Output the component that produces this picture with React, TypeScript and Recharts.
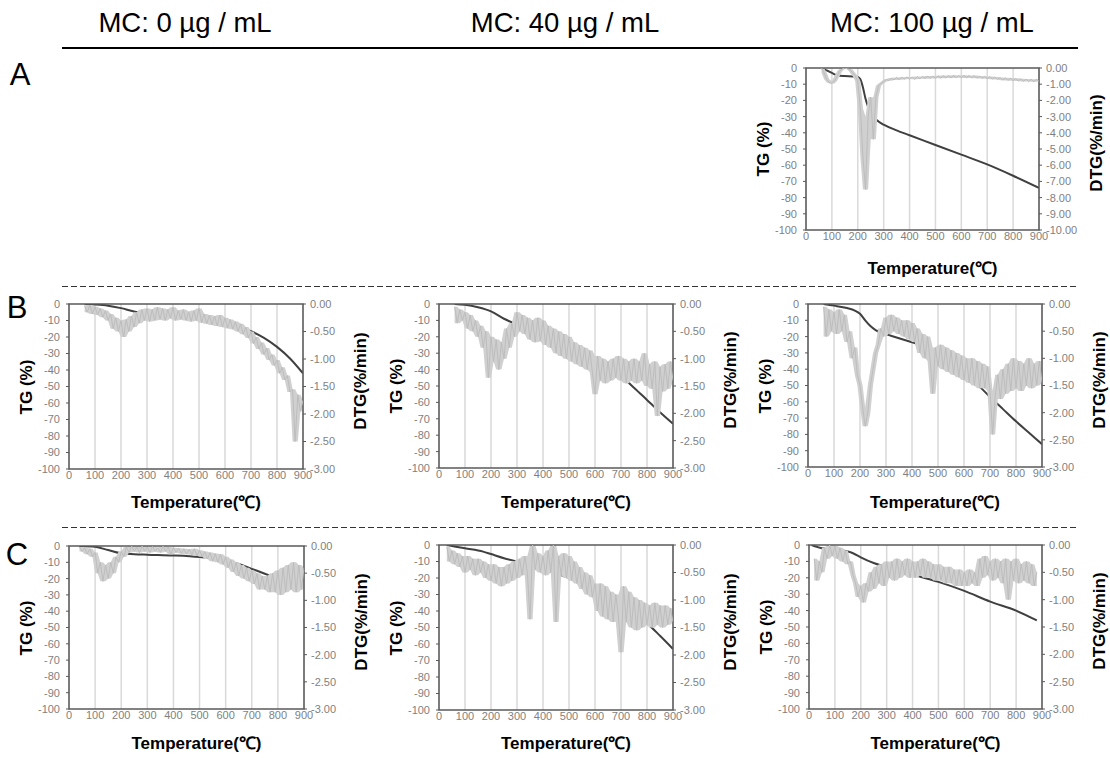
import React from 'react';
import { ComposedChart, Line, Area, XAxis, YAxis, CartesianGrid, ReferenceArea } from 'recharts';

const FONT = "'Liberation Sans', Arial, Helvetica, sans-serif";

const HEADERS = ['MC: 0 µg / mL', 'MC: 40 µg / mL', 'MC: 100 µg / mL'];
const ROW_LABELS = ['A', 'B', 'C'];
const X_TITLE = 'Temperature(℃)';
const TG_TITLE = 'TG (%)';
const DTG_TITLE = 'DTG(%/min)';

const X_TICKS = [0, 100, 200, 300, 400, 500, 600, 700, 800, 900];
const TG_TICKS = [0, -10, -20, -30, -40, -50, -60, -70, -80, -90, -100];
const DTG_TICKS_A = [0, -1, -2, -3, -4, -5, -6, -7, -8, -9, -10];
const DTG_TICKS_BC = [0, -0.5, -1, -1.5, -2, -2.5, -3];

// DTG sampling temperatures (°C)
const TEMPS = [
  0, 10, 20, 30, 40, 50, 60, 70, 80, 90,
  100, 110, 120, 130, 140, 150, 160, 170, 180, 190,
  200, 210, 220, 230, 240, 250, 260, 270, 280, 290,
  300, 310, 320, 330, 340, 350, 360, 370, 380, 390,
  400, 410, 420, 430, 440, 450, 460, 470, 480, 490,
  500, 510, 520, 530, 540, 550, 560, 570, 580, 590,
  600, 610, 620, 630, 640, 650, 660, 670, 680, 690,
  700, 710, 720, 730, 740, 750, 760, 770, 780, 790,
  800, 810, 820, 830, 840, 850, 860, 870, 880, 890,
  900,
];

// ---- TG curves (%), temperature / value pairs ----
const TG_A_T = [60, 80, 100, 120, 150, 180, 200, 210, 220, 230, 240, 250, 265, 280, 300, 350, 400, 500, 600, 700, 800, 900];
const TG_A_V = [0, -1.5, -3, -4.5, -5, -5.2, -5.5, -7, -12, -19, -24, -27.5, -31, -33, -35, -38.5, -41.5, -47.5, -53.5, -59.5, -66.5, -74];

const TG_B1_T = [60, 100, 150, 200, 250, 300, 400, 500, 600, 650, 700, 750, 800, 850, 900];
const TG_B1_V = [0, -0.3, -1, -2.5, -4.5, -5.8, -7.5, -9, -12, -14, -16.5, -20.5, -26, -33, -42];

const TG_B2_T = [60, 100, 150, 200, 250, 300, 350, 400, 450, 500, 550, 600, 650, 700, 750, 800, 850, 900];
const TG_B2_V = [0, -0.5, -2, -4.5, -9, -12.5, -15, -17.5, -20.5, -23.5, -28, -33, -38.5, -44, -51, -58.5, -66, -73];

const TG_B3_T = [60, 100, 150, 180, 200, 220, 240, 260, 280, 300, 350, 400, 430, 500, 600, 650, 700, 750, 800, 850, 900];
const TG_B3_V = [0, -1, -2.5, -4, -6, -10, -13.5, -16, -17.5, -18.5, -21, -23.5, -25, -31, -42, -49, -57, -64.5, -72, -79, -86];

const TG_C1_T = [40, 100, 150, 200, 250, 300, 400, 500, 600, 650, 700, 750, 800, 850, 900];
const TG_C1_V = [0, -0.5, -2.5, -4.5, -5, -5.3, -5.8, -6.8, -9, -11, -14, -17, -20, -23, -26];

const TG_C2_T = [30, 100, 170, 200, 250, 300, 400, 500, 600, 650, 700, 750, 800, 850, 900];
const TG_C2_V = [0, -2, -4, -5.5, -8, -10, -14.5, -20, -27, -31.5, -37, -42, -47.5, -55, -63];

const TG_C3_T = [10, 50, 100, 150, 170, 200, 250, 300, 400, 500, 600, 700, 800, 880];
const TG_C3_V = [0, -2, -3, -4, -5, -7.5, -11, -13.5, -18, -22.5, -28, -34.5, -40, -46];

// ---- DTG curves (%/min), one value per TEMPS entry ----
const DTG_A = [
  null, null, null, null, null, null, 0, -0.3, -0.7, -0.9,
  -0.95, -0.8, -0.5, -0.2, -0.05, 0, -0.05, -0.1, -0.3, -0.5,
  -0.8, -2.5, -5.5, -7.5, -3.0, -1.8, -4.4, -1.8, -1.1, -0.95,
  -0.85, -0.7, -0.78, -0.62, -0.74, -0.58, -0.72, -0.57, -0.7, -0.55,
  -0.68, -0.55, -0.7, -0.53, -0.67, -0.52, -0.66, -0.5, -0.65, -0.5,
  -0.64, -0.48, -0.63, -0.47, -0.62, -0.46, -0.62, -0.45, -0.6, -0.46,
  -0.6, -0.45, -0.61, -0.46, -0.62, -0.47, -0.63, -0.49, -0.65, -0.51,
  -0.67, -0.53, -0.69, -0.55, -0.71, -0.58, -0.75, -0.6, -0.77, -0.62,
  -0.79, -0.64, -0.81, -0.66, -0.83, -0.68, -0.84, -0.69, -0.85, -0.7,
  -0.82,
];

const DTG_B1 = [
  null, null, null, null, null, null, -0.03, -0.15, -0.02, -0.18,
  -0.05, -0.2, -0.08, -0.24, -0.12, -0.3, -0.18, -0.45, -0.25, -0.5,
  -0.3, -0.6, -0.28, -0.5, -0.22, -0.42, -0.15, -0.35, -0.1, -0.3,
  -0.08, -0.32, -0.1, -0.3, -0.06, -0.28, -0.08, -0.3, -0.1, -0.26,
  -0.06, -0.3, -0.12, -0.28, -0.1, -0.3, -0.14, -0.32, -0.12, -0.3,
  -0.08, -0.34, -0.18, -0.36, -0.2, -0.38, -0.22, -0.4, -0.2, -0.42,
  -0.25, -0.44, -0.28, -0.46, -0.32, -0.5, -0.36, -0.55, -0.42, -0.62,
  -0.5, -0.72, -0.6, -0.82, -0.7, -0.92, -0.8, -1.02, -0.92, -1.12,
  -1.02, -1.26, -1.15, -1.38, -1.3, -1.6, -1.55, -2.5, -1.65, -1.95,
  -1.75,
];

const DTG_B2 = [
  null, null, null, null, null, null, -0.05, -0.35, -0.1, -0.3,
  -0.15, -0.45, -0.2, -0.5, -0.3, -0.6, -0.4, -0.8, -0.5, -1.35,
  -0.6, -1.05, -0.65, -1.2, -0.7, -1.0, -0.45, -0.8, -0.35, -0.6,
  -0.15, -0.5, -0.2, -0.55, -0.25, -0.65, -0.3, -0.7, -0.25, -0.68,
  -0.3, -0.75, -0.4, -0.8, -0.45, -0.9, -0.5, -0.95, -0.55, -1.0,
  -0.6, -1.05, -0.7, -1.1, -0.75, -1.15, -0.8, -1.2, -0.85, -1.25,
  -1.65, -0.95, -1.4, -1.0, -1.45, -1.05, -1.4, -1.0, -1.35, -0.95,
  -1.4, -1.0, -1.45, -1.05, -1.4, -1.0, -1.45, -1.05, -1.4, -0.9,
  -1.5, -1.1, -1.55, -1.05, -2.05, -1.15, -1.6, -1.1, -1.55, -1.05,
  -1.4,
];

const DTG_B3 = [
  null, null, null, null, null, null, -0.05, -0.6, -0.1, -0.5,
  -0.15, -0.55, -0.1, -0.5, -0.2, -0.7, -0.5, -1.0, -0.8, -1.3,
  -1.5, -1.9, -2.25, -2.0, -1.5, -1.2, -0.9, -0.75, -0.45, -0.6,
  -0.25, -0.55, -0.2, -0.5, -0.25, -0.55, -0.3, -0.6, -0.3, -0.65,
  -0.35, -0.7, -0.45, -0.9, -0.55, -1.0, -0.6, -1.05, -1.65, -0.8,
  -1.15, -0.75, -1.2, -0.8, -1.25, -0.85, -1.3, -0.9, -1.35, -0.95,
  -1.4, -1.0, -1.45, -1.0, -1.5, -1.05, -1.55, -1.1, -1.55, -1.15,
  -1.6, -2.4, -1.7, -1.3, -1.75, -1.2, -1.65, -1.1, -1.6, -1.0,
  -1.55, -1.05, -1.6, -1.1, -1.5, -1.0, -1.55, -1.1, -1.5, -1.05,
  -1.45,
];

const DTG_C1 = [
  null, null, null, null, -0.02, -0.1, -0.03, -0.15, -0.05, -0.2,
  -0.12, -0.5, -0.3, -0.65, -0.35, -0.6, -0.3, -0.5, -0.2, -0.3,
  -0.1, -0.2, -0.02, -0.12, 0, -0.1, -0.02, -0.12, 0, -0.1,
  -0.02, -0.12, -0.01, -0.1, -0.03, -0.12, 0, -0.1, -0.02, -0.15,
  -0.03, -0.12, -0.04, -0.14, -0.05, -0.15, -0.06, -0.16, -0.05, -0.18,
  -0.08, -0.2, -0.1, -0.24, -0.12, -0.28, -0.14, -0.3, -0.15, -0.34,
  -0.2, -0.4, -0.25, -0.48, -0.3, -0.55, -0.35, -0.6, -0.4, -0.65,
  -0.45, -0.7, -0.5, -0.8, -0.55, -0.8, -0.55, -0.85, -0.5, -0.85,
  -0.45, -0.9, -0.4, -0.85, -0.35, -0.8, -0.3, -0.85, -0.35, -0.8,
  -0.4,
];

const DTG_C2 = [
  null, null, null, -0.03, -0.3, -0.1, -0.35, -0.15, -0.4, -0.2,
  -0.5, -0.2, -0.45, -0.25, -0.55, -0.25, -0.5, -0.3, -0.6, -0.35,
  -0.65, -0.35, -0.7, -0.4, -0.75, -0.4, -0.7, -0.35, -0.65, -0.3,
  -0.6, -0.25, -0.55, -0.2, -0.5, -1.35, 0, -0.45, -0.15, -0.5,
  -0.2, -0.55, -0.1, -0.5, 0, -1.4, -0.2, -0.55, -0.15, -0.6,
  -0.2, -0.65, -0.3, -0.7, -0.4, -0.8, -0.5, -0.9, -0.55, -0.95,
  -0.7, -1.2, -0.7, -1.3, -0.75, -1.35, -0.85, -1.4, -0.9, -1.3,
  -1.95, -0.75, -1.4, -0.85, -1.5, -0.95, -1.55, -1.0, -1.5, -1.05,
  -1.45, -1.1, -1.5, -1.05, -1.45, -1.1, -1.5, -1.1, -1.45, -1.15,
  -1.4,
];

const DTG_C3 = [
  null, null, -0.25, -0.65, -0.3, -0.5, -0.05, -0.25, 0, -0.2,
  -0.02, -0.25, -0.05, -0.3, -0.1, -0.35, -0.3, -0.55, -0.7, -0.95,
  -0.75, -1.05, -0.7, -0.85, -0.5, -0.8, -0.4, -0.7, -0.35, -0.75,
  -0.3, -0.6, -0.3, -0.65, -0.25, -0.6, -0.3, -0.55, -0.25, -0.6,
  -0.3, -0.6, -0.3, -0.55, -0.25, -0.6, -0.3, -0.6, -0.35, -0.65,
  -0.35, -0.65, -0.4, -0.7, -0.4, -0.7, -0.45, -0.75, -0.45, -0.75,
  -0.5, -0.75, -0.45, -0.7, -0.5, -0.75, -0.25, -0.6, -0.2, -0.55,
  -0.3, -0.65, -0.25, -0.6, -0.3, -0.7, -0.25, -1.0, -0.3, -0.65,
  -0.25, -0.7, -0.35, -0.65, -0.3, -0.7, -0.35, -0.75, -0.5, null,
  null,
];

type PanelProps = {
  left: number; top: number; w: number; h: number;
  tgT: number[]; tgV: number[]; dtg: (number | null)[];
  dtgMin: number; dtgTicks: number[]; titleY: number;
};

const tickStyle = { fontSize: 11, fill: '#7f7f7f', stroke: 'none', fontFamily: FONT };
const titleFont = `bold 17px ${FONT}`;

// noise envelope of the read DTG values (neighbouring samples)
function envelope(vals: (number | null)[]) {
  return vals.map((v, i) => {
    if (v == null) return null;
    const arr: number[] = [v];
    const a = vals[i - 1];
    const b = vals[i + 1];
    if (a != null) arr.push(a);
    if (b != null) arr.push(b);
    return [Math.min(...arr), Math.max(...arr)];
  });
}

function Panel(p: PanelProps) {
  const LW = 52, RW = 52, MT = 10, BH = 22;
  const tgData = p.tgT.map((t, i) => ({ t, tg: p.tgV[i] }));
  const band = envelope(p.dtg);
  const dtgData = TEMPS.map((t, i) => ({ t, dtg: p.dtg[i], band: band[i] }));
  return (
    <>
      <div style={{ position: 'absolute', left: p.left - LW, top: p.top - MT }}>
        <ComposedChart width={LW + p.w + RW} height={MT + p.h + BH} margin={{ top: MT, right: 0, bottom: 0, left: 0 }}>
          <CartesianGrid yAxisId="tg" horizontal={false} stroke="#d9d9d9" strokeWidth={1.5} />
          <XAxis dataKey="t" type="number" domain={[0, 900]} ticks={X_TICKS} interval={0} allowDataOverflow
            height={BH} tickLine={false} tickSize={0} tickMargin={2} axisLine={false} tick={tickStyle} />
          <YAxis yAxisId="tg" orientation="left" width={LW} domain={[-100, 0]} ticks={TG_TICKS} interval={0}
            allowDataOverflow tickSize={3} tickMargin={6} axisLine={false} tickLine={{ stroke: '#595959' }} tick={tickStyle} />
          <YAxis yAxisId="dtg" orientation="right" width={RW} domain={[p.dtgMin, 0]} ticks={p.dtgTicks} interval={0}
            allowDataOverflow tickFormatter={(v: number) => v.toFixed(2)} tickSize={3} tickMargin={4}
            axisLine={false} tickLine={{ stroke: '#595959' }} tick={tickStyle} />
          <Area yAxisId="tg" data={tgData} dataKey="tg" type="monotone" stroke="#404040" strokeWidth={2}
            fill="none" fillOpacity={0} dot={false} activeDot={false} isAnimationActive={false} />
          <Area yAxisId="dtg" data={dtgData} dataKey="band" type="linear" stroke="none" fill="#d0d0d0" fillOpacity={1}
            dot={false} activeDot={false} isAnimationActive={false} />
          <Line yAxisId="dtg" data={dtgData} dataKey="dtg" type="linear" stroke="#bdbdbd" strokeWidth={1}
            dot={false} activeDot={false} isAnimationActive={false} />
          <ReferenceArea yAxisId="tg" x1={0} x2={900} y1={-100} y2={0} fill="none" fillOpacity={0}
            stroke="#595959" strokeWidth={1.5} ifOverflow="visible" />
        </ComposedChart>
      </div>
      <div style={{ position: 'absolute', left: p.left - 42, top: p.top + p.h / 2, transform: 'translate(-50%, -50%) rotate(-90deg)', font: titleFont, whiteSpace: 'nowrap', color: '#000' }}>{TG_TITLE}</div>
      <div style={{ position: 'absolute', left: p.left + p.w + 58, top: p.top + p.h / 2 - 6, transform: 'translate(-50%, -50%) rotate(-90deg)', font: titleFont, whiteSpace: 'nowrap', color: '#000' }}>{DTG_TITLE}</div>
      <div style={{ position: 'absolute', left: p.left + p.w / 2 + 10, top: p.titleY, transform: 'translate(-50%, -50%)', font: titleFont, whiteSpace: 'nowrap', color: '#000' }}>{X_TITLE}</div>
    </>
  );
}

const PANELS: PanelProps[] = [
  { left: 806, top: 68, w: 233, h: 162, tgT: TG_A_T, tgV: TG_A_V, dtg: DTG_A, dtgMin: -10, dtgTicks: DTG_TICKS_A, titleY: 267 },
  { left: 69, top: 304, w: 234, h: 165, tgT: TG_B1_T, tgV: TG_B1_V, dtg: DTG_B1, dtgMin: -3, dtgTicks: DTG_TICKS_BC, titleY: 501 },
  { left: 439, top: 304, w: 234, h: 164, tgT: TG_B2_T, tgV: TG_B2_V, dtg: DTG_B2, dtgMin: -3, dtgTicks: DTG_TICKS_BC, titleY: 501 },
  { left: 808, top: 304, w: 234, h: 163, tgT: TG_B3_T, tgV: TG_B3_V, dtg: DTG_B3, dtgMin: -3, dtgTicks: DTG_TICKS_BC, titleY: 501 },
  { left: 69, top: 546, w: 235, h: 163, tgT: TG_C1_T, tgV: TG_C1_V, dtg: DTG_C1, dtgMin: -3, dtgTicks: DTG_TICKS_BC, titleY: 742 },
  { left: 439, top: 545, w: 234, h: 165, tgT: TG_C2_T, tgV: TG_C2_V, dtg: DTG_C2, dtgMin: -3, dtgTicks: DTG_TICKS_BC, titleY: 742 },
  { left: 809, top: 545, w: 233, h: 164, tgT: TG_C3_T, tgV: TG_C3_V, dtg: DTG_C3, dtgMin: -3, dtgTicks: DTG_TICKS_BC, titleY: 742 },
];

const HEADER_X = [185, 565, 932];
const ROW_POS = [{ x: 20, y: 85 }, { x: 17, y: 318 }, { x: 17, y: 565 }];

export default function App() {
  return (
    <div style={{ position: 'absolute', left: 0, top: 0, width: 1110, height: 758, background: '#fff', overflow: 'hidden', fontFamily: FONT }}>
      <svg width={1110} height={758} style={{ position: 'absolute', left: 0, top: 0 }}>
        {HEADERS.map((h, i) => (
          <text key={h} x={HEADER_X[i]} y={32} textAnchor="middle" fontSize={27.5} fontFamily={FONT} fill="#000">{h}</text>
        ))}
        <line x1={62} x2={1078} y1={48} y2={48} stroke="#000" strokeWidth={2.2} />
        <line x1={62} x2={1078} y1={286.5} y2={286.5} stroke="#333" strokeWidth={1} strokeDasharray="6 3" />
        <line x1={62} x2={1078} y1={527.5} y2={527.5} stroke="#333" strokeWidth={1} strokeDasharray="6 3" />
        {ROW_LABELS.map((r, i) => (
          <text key={r} x={ROW_POS[i].x} y={ROW_POS[i].y} textAnchor="middle" fontSize={31} fontFamily={FONT} fill="#000">{r}</text>
        ))}
      </svg>
      {PANELS.map((p, i) => <Panel key={i} {...p} />)}
    </div>
  );
}
